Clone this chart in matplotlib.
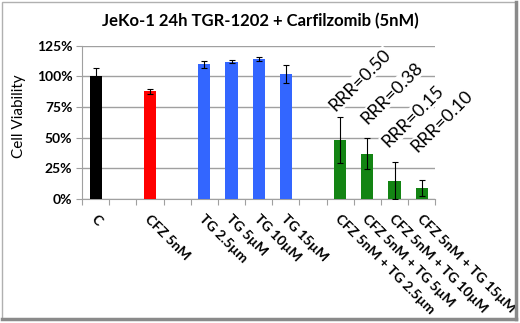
import numpy as np
import matplotlib
matplotlib.use("Agg")
from matplotlib import pyplot as plt
from matplotlib.patches import Rectangle

# data
labels = ["C", "", "CFZ 5nM", "", "TG 2.5\u00b5m", "TG 5\u00b5M", "TG 10\u00b5M",
          "TG 15\u00b5M", "", "CFZ 5nM + TG 2.5\u00b5m", "CFZ 5nM + TG 5\u00b5M",
          "CFZ 5nM + TG 10\u00b5M", "CFZ 5nM + TG 15\u00b5M"]
viability = [100, 0, 88, 0, 110, 112, 114.5, 102, 0, 48, 37, 15, 9]
errors = [7, 0, 2, 0, 3, 1.2, 1.5, 7, 0, 19, 12.5, 15, 6.5]
bar_colors = ["black", "none", "#ff0000", "none", "#3366ff", "#3366ff", "#3366ff",
              "#3366ff", "none", "#138413", "#138413", "#138413", "#138413"]
rrr_labels = ["RRR=0.50", "RRR=0.38", "RRR=0.15", "RRR=0.10"]
rrr_x = [8.82, 10.0, 10.77, 11.84]
rrr_y = [71, 60.5, 41.5, 37.5]

plt.rcParams['font.family'] = ['Lato', 'DejaVu Sans']

fig = plt.figure(figsize=(5.2, 3.23), dpi=100)
ax = fig.add_axes([0.158, 0.384, 0.679, 0.474])

x = np.arange(len(labels))
mask = [v > 0 for v in viability]
xs = x[mask]
vs = np.array(viability)[mask]
es = np.array(errors)[mask]
cs = [c for c, m in zip(bar_colors, mask) if m]
ax.bar(xs, vs, width=0.45, color=cs, zorder=3)
ax.errorbar(xs, vs, yerr=es, fmt="none", ecolor="black", elinewidth=0.8,
            capsize=2.5, capthick=0.8, zorder=4)

ax.set_xlim(-0.5, len(labels) - 0.5)
ax.set_ylim(0, 125)
ax.set_yticks([0, 25, 50, 75, 100, 125])
ax.set_yticklabels(["0%", "25%", "50%", "75%", "100%", "125%"],
                   fontweight="bold", fontsize=10)
ax.yaxis.grid(True, color="#a0a0a0", linewidth=1, zorder=0)
ax.set_axisbelow(True)

ax.set_xticks(np.arange(len(labels) + 1) - 0.5)
ax.set_xticklabels([])
ax.tick_params(axis="x", length=4, color="#a0a0a0")
ax.tick_params(axis="y", length=4, color="#a0a0a0", pad=3)
for i, lab in enumerate(labels):
    if lab:
        ax.text(i + 0.05, -11, lab, rotation=-45, rotation_mode="anchor",
                ha="left", va="top", fontsize=10, fontweight="bold")

for sp in ["top", "right"]:
    ax.spines[sp].set_visible(False)
for sp in ["left", "bottom"]:
    ax.spines[sp].set_color("#a0a0a0")

ax.set_ylabel("Cell Viability", fontsize=11)
ax.yaxis.set_label_coords(-0.16, 0.54)
fig.text(0.5, 0.935, "JeKo-1 24h TGR-1202 + Carfilzomib (5nM)", ha="center",
         va="center", fontsize=12, fontweight="bold")

for xx, t, y in zip(rrr_x, rrr_labels, rrr_y):
    ax.text(xx, y, t, rotation=45, rotation_mode="anchor", ha="left",
            va="baseline", fontsize=13, zorder=5,
            bbox=dict(facecolor="white", edgecolor="none", pad=0.5))

# frame around the chart
fig.patches.append(Rectangle((0.004, 0.012), 0.988, 0.982, transform=fig.transFigure,
                             fill=False, edgecolor="#b0b0b0", linewidth=1))
fig.lines.append(plt.Line2D([0.992, 0.992], [0.012, 0.994], transform=fig.transFigure,
                            color="#8a8a8a", linewidth=2.5))
fig.lines.append(plt.Line2D([0.004, 0.992], [0.012, 0.012], transform=fig.transFigure,
                            color="#8a8a8a", linewidth=2.5))

fig.savefig("out.png", dpi=100)
